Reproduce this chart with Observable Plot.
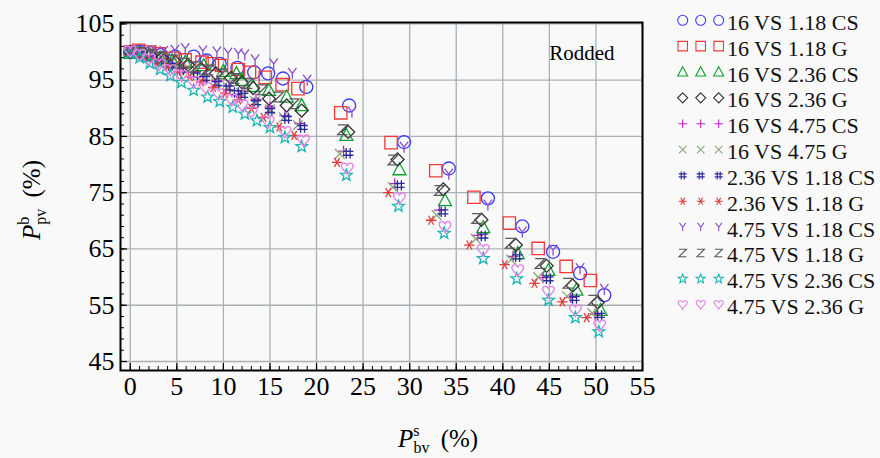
<!DOCTYPE html>
<html><head><meta charset="utf-8">
<script src="https://cdn.jsdelivr.net/npm/d3@7"></script>
<script src="https://cdn.jsdelivr.net/npm/@observablehq/plot@0.6"></script>
<style>
html,body{margin:0;padding:0;background:#f9f9f9;}
#chart{position:relative;width:880px;height:458px;overflow:hidden;}
</style></head><body><div id="chart"></div>
<script>
// ---- tick labels ----
const xTicks = [0, 5, 10, 15, 20, 25, 30, 35, 40, 45, 50, 55];
const yTicks = [45, 55, 65, 75, 85, 95, 105];

// ---- series names & colours ----
const seriesNames = ["16 VS 1.18 CS","16 VS 1.18 G","16 VS 2.36 CS","16 VS 2.36 G","16 VS 4.75 CS","16 VS 4.75 G",
  "2.36 VS 1.18 CS","2.36 VS 1.18 G","4.75 VS 1.18 CS","4.75 VS 1.18 G","4.75 VS 2.36 CS","4.75 VS 2.36 G"];
const seriesColors = ["#3b3bf5","#f03a3a","#10a030","#333333","#c020c0","#8aa67a",
  "#2a2a9a","#e03c3c","#8a4fd0","#5a5a5a","#19b3b3","#e383e8"];

// ---- data (P_bv^s, P_pv^b) ----
const s1x = [0, 1.0, 2.2, 3.3, 4.8, 6.8, 8.2, 9.6, 11.5, 13.3, 14.8, 16.4, 18.9, 23.5, 29.4, 34.2, 38.4, 42.1, 45.4, 48.3, 50.9];
const s1y = [100.0, 100.1, 99.8, 99.5, 99.2, 99.2, 98.5, 97.9, 97.2, 96.4, 96.2, 95.3, 93.8, 90.5, 84.0, 79.3, 74.0, 69.0, 64.5, 60.7, 56.8];
const s2x = [0, 0.9, 2.1, 3.1, 4.6, 5.9, 7.7, 8.8, 9.8, 11.6, 12.8, 14.5, 16.3, 18.0, 22.6, 28.0, 32.8, 36.9, 40.7, 43.8, 46.8, 49.4];
const s2y = [100.0, 100.3, 100.0, 99.7, 98.9, 98.6, 98.2, 97.9, 97.6, 96.9, 96.4, 95.5, 94.2, 93.5, 89.2, 83.9, 78.9, 74.2, 69.6, 65.1, 61.9, 59.4];
const s3x = [0, 1.0, 2.0, 3.2, 4.5, 5.9, 7.9, 10.0, 11.4, 12.0, 13.2, 14.9, 16.8, 18.4, 23.2, 28.9, 33.8, 37.9, 41.6, 44.9, 47.9, 50.5];
const s3y = [99.8, 99.9, 99.5, 99.0, 98.5, 98.2, 97.6, 96.6, 96.2, 95.0, 93.9, 93.2, 92.0, 90.5, 85.2, 79.1, 73.6, 68.8, 64.2, 61.2, 57.7, 54.1];
const s4x = [0, 1.1, 2.2, 3.4, 4.8, 6.2, 7.6, 9.2, 10.8, 12.0, 13.2, 14.9, 16.8, 18.4, 23.4, 28.7, 33.6, 37.7, 41.4, 44.7, 47.5, 50.2];
const s4y = [100.0, 99.8, 99.4, 98.9, 98.3, 97.7, 97.0, 96.2, 95.4, 94.6, 93.6, 91.7, 90.5, 89.6, 85.8, 80.9, 75.6, 70.2, 65.7, 62.0, 58.5, 55.5];
const s5x = [0, 1.0, 2.1, 3.2, 4.4, 5.6, 6.8, 8.0, 9.3, 10.6, 12.0, 13.5, 15.0, 16.6, 18.2, 22.9, 28.4, 33.2, 37.3, 41.1, 44.3, 47.3, 49.9];
const s5y = [100.2, 99.9, 99.2, 98.6, 97.9, 97.1, 96.4, 95.7, 94.9, 94.0, 93.0, 91.6, 90.2, 88.7, 87.3, 82.4, 76.6, 71.9, 67.4, 63.7, 59.9, 56.4, 53.4];
const s6x = [0, 1.0, 2.0, 3.0, 4.2, 5.4, 6.6, 7.9, 9.2, 10.5, 11.9, 13.4, 15.0, 16.5, 18.0, 22.5, 28.2, 32.9, 37.1, 40.9, 43.8, 46.9, 49.6];
const s6y = [99.9, 99.6, 99.1, 98.5, 97.8, 97.0, 96.2, 95.4, 94.6, 93.7, 92.7, 91.3, 89.8, 88.4, 87.0, 81.9, 76.0, 71.0, 66.8, 63.1, 60.0, 56.6, 53.6];
const s7x = [0, 1.0, 2.0, 3.1, 4.3, 5.5, 7.0, 8.0, 9.3, 10.5, 11.4, 12.1, 13.5, 15.0, 16.8, 18.5, 23.4, 28.9, 33.6, 37.9, 41.6, 44.9, 47.7, 50.4];
const s7y = [100.0, 99.7, 99.1, 98.4, 97.6, 96.8, 95.9, 95.3, 94.4, 93.6, 92.8, 92.3, 91.0, 89.6, 88.2, 86.6, 82.0, 76.3, 71.6, 67.3, 63.6, 59.7, 56.2, 53.2];
const s8x = [0, 0.9, 1.9, 2.9, 4.0, 5.2, 6.4, 7.6, 8.9, 10.2, 11.6, 13.0, 14.3, 16.0, 17.6, 22.2, 27.7, 32.3, 36.4, 40.2, 43.4, 46.4, 49.0];
const s8y = [99.9, 99.5, 98.9, 98.2, 97.4, 96.5, 95.6, 94.7, 93.7, 92.7, 91.5, 90.0, 88.4, 86.7, 85.2, 80.4, 75.0, 70.1, 65.7, 62.2, 58.9, 55.6, 52.8];
const s9x = [0, 1.1, 2.3, 3.6, 4.8, 5.9, 7.8, 9.3, 10.5, 11.6, 12.3, 13.4, 15.4, 17.4, 19.0, 23.8, 29.4, 34.2, 38.4, 42.1, 45.4, 48.3, 50.9];
const s9y = [100.2, 100.3, 100.2, 100.1, 100.3, 100.6, 100.2, 100.0, 99.8, 99.7, 99.5, 98.6, 97.9, 96.2, 95.0, 89.3, 83.1, 78.3, 72.8, 68.0, 64.8, 61.5, 57.8];
const s10x = [0, 1.0, 2.1, 3.3, 4.5, 5.8, 7.1, 8.4, 9.8, 11.2, 12.6, 14.2, 15.9, 17.6, 22.8, 28.2, 33.2, 37.2, 40.8, 44.0, 47.0, 49.7];
const s10y = [100.1, 99.9, 99.5, 99.1, 98.6, 98.0, 97.4, 96.8, 96.1, 95.3, 94.4, 93.3, 92.0, 90.8, 86.2, 80.8, 75.4, 70.4, 66.0, 62.4, 58.9, 55.9];
const s11x = [0, 1.0, 2.1, 3.2, 4.3, 5.5, 6.8, 8.3, 9.6, 11.0, 12.3, 13.6, 15.0, 16.6, 18.4, 23.2, 28.8, 33.7, 37.9, 41.5, 44.9, 47.8, 50.3];
const s11y = [99.8, 99.0, 98.0, 96.9, 95.8, 94.6, 93.2, 92.0, 91.2, 90.2, 89.0, 87.8, 86.6, 84.8, 83.2, 78.1, 72.6, 67.8, 63.3, 59.7, 55.9, 52.8, 50.3];
const s12x = [0, 1.0, 2.0, 3.1, 4.3, 5.5, 6.8, 8.1, 9.5, 10.9, 12.0, 13.0, 14.8, 16.6, 18.6, 23.3, 28.9, 33.8, 37.9, 41.6, 44.9, 47.8, 50.4];
const s12y = [100.1, 99.5, 98.7, 97.8, 96.8, 95.8, 94.7, 93.6, 92.5, 91.5, 90.5, 89.3, 87.6, 85.8, 84.3, 79.3, 74.0, 68.9, 64.8, 61.2, 57.4, 54.1, 51.4];

const seriesX = [s1x, s2x, s3x, s4x, s5x, s6x, s7x, s8x, s9x, s10x, s11x, s12x];
const seriesY = [s1y, s2y, s3y, s4y, s5y, s6y, s7y, s8y, s9y, s10y, s11y, s12y];

// ---- custom symbols ----
function sym(fn) { return {draw(c, size) { fn(c, Math.sqrt(size / Math.PI)); }}; }
const symCircle = sym((c, r) => { c.moveTo(r, 0); c.arc(0, 0, r, 0, 2 * Math.PI); c.closePath(); });
const symSquare = sym((c, r) => { const s = r * 0.95; c.moveTo(-s, -s); c.lineTo(s, -s); c.lineTo(s, s); c.lineTo(-s, s); c.closePath(); });
const symTriangle = sym((c, r) => { const s = r * 1.05; c.moveTo(0, -s); c.lineTo(s * 0.95, s * 0.75); c.lineTo(-s * 0.95, s * 0.75); c.closePath(); });
const symDiamond = sym((c, r) => { const s = r; c.moveTo(0, -s); c.lineTo(s, 0); c.lineTo(0, s); c.lineTo(-s, 0); c.closePath(); });
const symPlus = sym((c, r) => { const s = r * 0.85; c.moveTo(-s, 0); c.lineTo(s, 0); c.moveTo(0, -s); c.lineTo(0, s); });
const symTimes = sym((c, r) => { const s = r * 0.75; c.moveTo(-s, -s); c.lineTo(s, s); c.moveTo(s, -s); c.lineTo(-s, s); });
const symHash = sym((c, r) => { const s = r * 0.8, g = r * 0.3;
  c.moveTo(-g, -s); c.lineTo(-g, s); c.moveTo(g, -s); c.lineTo(g, s);
  c.moveTo(-s, -g); c.lineTo(s, -g); c.moveTo(-s, g); c.lineTo(s, g); });
const symAsterisk = sym((c, r) => { const s = r * 0.8;
  for (const a of [0, 60, 120]) { const t = a * Math.PI / 180;
    c.moveTo(-s * Math.cos(t), -s * Math.sin(t)); c.lineTo(s * Math.cos(t), s * Math.sin(t)); } });
const symWye = sym((c, r) => { const s = r * 0.85; c.moveTo(-s * 0.75, -s); c.lineTo(0, 0); c.lineTo(s * 0.75, -s); c.moveTo(0, 0); c.lineTo(0, s); });
const symZ = sym((c, r) => { const s = r * 0.75; c.moveTo(-s, -s); c.lineTo(s, -s); c.lineTo(-s, s); c.lineTo(s, s); });
const symStar = sym((c, r) => { const R = r * 0.95, ir = R * 0.42;
  for (let i = 0; i < 10; i++) { const a = -Math.PI / 2 + i * Math.PI / 5, rr = i % 2 ? ir : R;
    const px = rr * Math.cos(a), py = rr * Math.sin(a); if (i) c.lineTo(px, py); else c.moveTo(px, py); }
  c.closePath(); });
const symHeart = sym((c, r) => { const s = r * 0.9;
  c.moveTo(0, s);
  c.bezierCurveTo(-s * 0.2, s * 0.5, -s, 0.1 * s, -s, -s * 0.45);
  c.bezierCurveTo(-s, -s * 1.05, -s * 0.15, -s * 1.1, 0, -s * 0.45);
  c.bezierCurveTo(s * 0.15, -s * 1.1, s, -s * 1.05, s, -s * 0.45);
  c.bezierCurveTo(s, 0.1 * s, s * 0.2, s * 0.5, 0, s);
  c.closePath(); });
const seriesSymbols = [symCircle, symSquare, symTriangle, symDiamond, symPlus, symTimes,
  symHash, symAsterisk, symWye, symZ, symStar, symHeart];

// ---- layout ----
const W = 880, H = 458, mL = 120, mR = 238, mT = 22, mB = 88;
const frameW = W - mL - mR, frameH = H - mT - mB;
const xMinor = d3.range(0, 56, 1);
const yMinor = d3.range(45, 106, 2);
const serif = "'Liberation Serif', 'Times New Roman', serif";

const dotMarks = seriesNames.map((name, i) => Plot.dot(
  seriesX[i].map((x, j) => ({x, y: seriesY[i][j]})),
  {x: "x", y: "y", symbol: seriesSymbols[i], r: 6.5, fill: "none", stroke: seriesColors[i], strokeWidth: 1.3}));

const svgNode = Plot.plot({
  width: W, height: H,
  marginLeft: mL, marginRight: mR, marginTop: mT, marginBottom: mB,
  style: {fontFamily: serif, background: "#f9f9f9", color: "#000"},
  x: {domain: [-1.05, 55], label: null},
  y: {domain: [43.4, 105.25], label: null},
  marks: [
    Plot.gridX(xTicks, {stroke: "#a9b1b6", strokeOpacity: 1, strokeWidth: 1.3}),
    Plot.gridY(yTicks, {stroke: "#a9b1b6", strokeOpacity: 1, strokeWidth: 1.3}),
    Plot.tickX(xMinor, {x: d => d, insetTop: frameH - 4, stroke: "#000", strokeWidth: 1}),
    Plot.tickX(xTicks, {x: d => d, insetTop: frameH - 7, stroke: "#000", strokeWidth: 1.2}),
    Plot.tickY(yMinor, {y: d => d, insetRight: frameW - 4, stroke: "#000", strokeWidth: 1}),
    Plot.tickY(yTicks, {y: d => d, insetRight: frameW - 7, stroke: "#000", strokeWidth: 1.2}),
    ...dotMarks,
    Plot.frame({stroke: "#000", strokeWidth: 2}),
    Plot.axisX(xTicks, {tickSize: 0, tickPadding: 6, fontSize: 26, fill: "#000", label: null, tickFormat: d => String(d)}),
    Plot.axisY(yTicks, {tickSize: 0, tickPadding: 6, fontSize: 26, fill: "#000", label: null, tickFormat: d => String(d)}),
    Plot.text(["Rodded"], {frameAnchor: "top-right", dx: -28, dy: 23, fontSize: 21, textAnchor: "end", fill: "#000"})
  ]
});

const svg = d3.select(svgNode);
svg.selectAll('[aria-label="x-axis tick label"], [aria-label="y-axis tick label"]')
  .attr("font-size", 26).style("font-size", "26px");
svg.selectAll('[aria-label="x-axis tick label"] text, [aria-label="y-axis tick label"] text')
  .style("font-size", "26px");

// axis titles with sub/superscripts
const yl = svg.append("text").attr("transform", "translate(40,200) rotate(-90)")
  .attr("text-anchor", "middle").attr("font-family", serif).attr("font-size", 25).attr("fill", "#000");
yl.append("tspan").attr("font-style", "italic").text("P");
yl.append("tspan").attr("font-size", 16).attr("dy", -11).text("b");
yl.append("tspan").attr("font-size", 16).attr("dx", -8).attr("dy", 17).text("pv");
yl.append("tspan").attr("dy", -6).text("\u2009 (%)");

const xl = svg.append("text").attr("x", 438).attr("y", 447)
  .attr("text-anchor", "middle").attr("font-family", serif).attr("font-size", 25).attr("fill", "#000");
xl.append("tspan").attr("font-style", "italic").text("P");
xl.append("tspan").attr("font-size", 16).attr("dy", -11).text("s");
xl.append("tspan").attr("font-size", 16).attr("dx", -6).attr("dy", 17).text("bv");
xl.append("tspan").attr("dy", -6).text("\u2009 (%)");

// legend
const lg = svg.append("g").attr("text-anchor", "start");
seriesNames.forEach((name, i) => {
  const cy = 20.3 + 25.85 * i;
  [682.7, 700.7, 718.7].forEach(cx => {
    const p = d3.path();
    seriesSymbols[i].draw(p, Math.PI * 5 * 5);
    lg.append("path").attr("d", p.toString()).attr("transform", `translate(${cx},${cy})`)
      .attr("fill", "none").attr("stroke", seriesColors[i]).attr("stroke-width", 1.1);
  });
  lg.append("text").attr("x", 727).attr("y", cy + 9.5).attr("font-family", serif)
    .attr("text-anchor", "start").attr("font-size", 22).attr("fill", "#111").text(name);
});

document.getElementById("chart").appendChild(svgNode);
</script>
</body></html>
